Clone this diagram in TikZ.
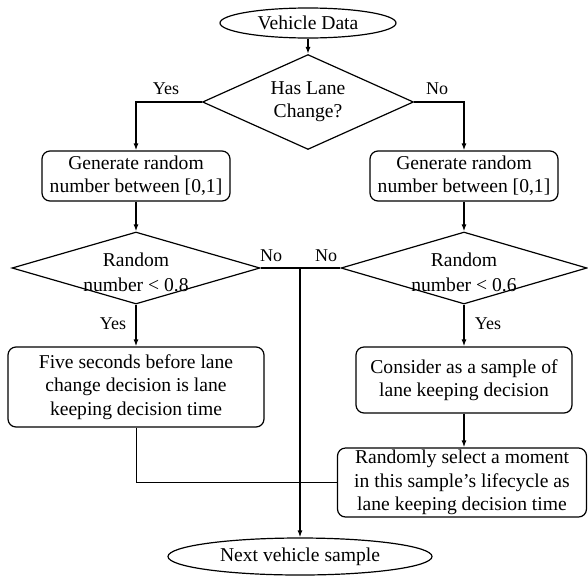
\documentclass[tikz,border=0pt]{standalone}
\usepackage{fontspec}
\setmainfont{Liberation Serif}
\usetikzlibrary{shapes.geometric,arrows.meta}
\begin{document}
\begin{tikzpicture}[x=1pt,y=-1pt,
  every node/.style={font=\fontsize{19.6}{23.3}\selectfont},
  term/.style={draw,ellipse,line width=1.2pt,inner sep=0pt},
  decide/.style={draw,diamond,line width=1.2pt,inner sep=-5pt,align=center},
  dtext/.style={align=center,inner sep=0pt,yshift=-4pt},
  proc/.style={draw,rounded corners=8pt,line width=1.2pt,align=center,inner sep=0pt},
  arr/.style={line width=1.6pt,-{Latex[length=7pt,width=5pt]}},
  lbl/.style={inner sep=0pt,font=\fontsize{18}{21}\selectfont}]
\useasboundingbox (0,0) rectangle (588,576);
\node[term,minimum width=176pt,minimum height=30pt] (vd) at (308,23) {Vehicle Data};
\node[decide,minimum width=211pt,minimum height=81pt] (d1) at (308,102) {Has Lane\\Change?};
\node[proc,minimum width=188pt,minimum height=50pt] (b1) at (136,176) {Generate random\\number between [0,1]};
\node[proc,minimum width=188pt,minimum height=50pt] (b2) at (464,176) {Generate random\\number between [0,1]};
\node[decide,minimum width=248pt,minimum height=72pt,
  label={[dtext]center:Random\\[2pt]number < 0.8}] (d2) at (136,268) {};
\node[decide,minimum width=246pt,minimum height=72pt,
  label={[dtext]center:Random\\[2pt]number < 0.6}] (d3) at (464,268) {};
\node[proc,minimum width=256pt,minimum height=80pt] (f) at (136,387) {Five seconds before lane\\change decision is lane\\keeping decision time};
\node[proc,minimum width=216pt,minimum height=66pt] (c) at (464,380) {Consider as a sample of\\lane keeping decision};
\node[proc,minimum width=249pt,minimum height=69pt] (r) at (462,482.5) {Randomly select a moment\\in this sample’s lifecycle as\\lane keeping decision time};
\node[term,minimum width=264pt,minimum height=37pt] (nx) at (300,556.5) {Next vehicle sample};
\coordinate (j) at (300,268);
\draw[arr] (vd) -- (d1);
\draw[arr] (d1.west) -| (b1.north);
\draw[arr] (d1.east) -| (b2.north);
\draw[arr] (b1) -- (d2);
\draw[arr] (b2) -- (d3);
\draw[arr] (d2) -- (f);
\draw[arr] (d3) -- (c);
\draw[arr] (c) -- (c |- r.north);
\draw[line width=1.6pt] (d2.east) -- (j) -- (d3.west);
\draw[arr] (j) -- (nx);
\draw[line width=1pt] (f.south) |- (r.west);
\node[lbl] (y1) at (166,89) {Yes};
\node[lbl] (n1) at (437,89) {No};
\node[lbl] (n2) at (271,256) {No};
\node[lbl] (n3) at (326,256) {No};
\node[lbl] (y2) at (113,324) {Yes};
\node[lbl] (y3) at (488,324) {Yes};
\end{tikzpicture}
\end{document}
